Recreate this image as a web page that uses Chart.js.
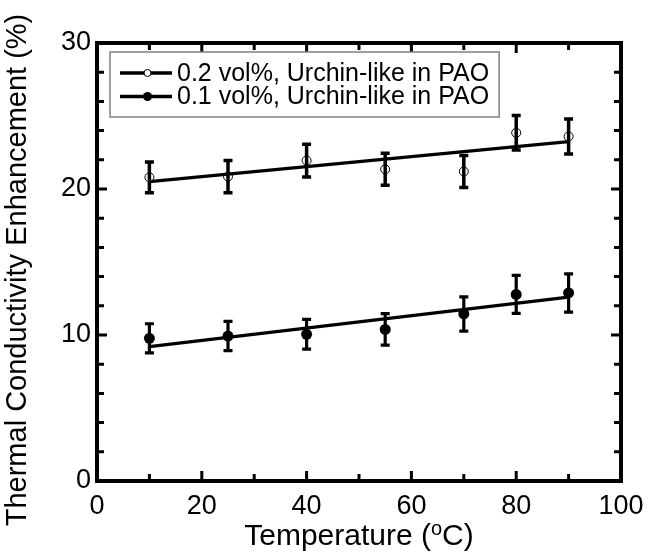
<!DOCTYPE html>
<html><head><meta charset="utf-8">
<script src="https://cdn.jsdelivr.net/npm/chart.js@4/dist/chart.umd.min.js"></script>
<style>html,body{margin:0;padding:0;background:#fff}</style>
</head><body>
<canvas id="c" width="655" height="554"></canvas>
<script>
// ---- data ----
const temps = [10, 25, 40, 55, 70, 80, 90];
const pct02 = [20.8, 20.85, 21.95, 21.35, 21.2, 23.85, 23.6];
const err02 = [1.05, 1.1, 1.12, 1.1, 1.1, 1.18, 1.2];
const pct01 = [9.77, 9.93, 10.05, 10.38, 11.44, 12.78, 12.88];
const err01 = [1.0, 1.0, 1.02, 1.08, 1.17, 1.3, 1.31];
const fitX = [10, 90];
const fit02 = [20.5, 23.25];
const fit01 = [9.2, 12.6];
const labels = ["0.2 vol%, Urchin-like in PAO", "0.1 vol%, Urchin-like in PAO"];
const xTicks = [0, 20, 40, 60, 80, 100];
const yTicks = [0, 10, 20, 30];
const yTitle = "Thermal Conductivity Enhancement (%)";
const xTitleParts = ["Temperature (", "o", "C)"];

const FONT = '"Liberation Sans", Arial, Helvetica, sans-serif';
const pts = (xs, ys) => xs.map((x, i) => ({x: x, y: ys[i]}));

const errorBars = {
  id: 'errorBars',
  beforeDatasetsDraw(chart) {
    const ctx = chart.ctx, xs = chart.scales.x, ys = chart.scales.y;
    const sets = [[pct02, err02, 3.5], [pct01, err01, 3.2]];
    ctx.save();
    ctx.strokeStyle = '#000';
    sets.forEach(([vals, errs, lw]) => {
      ctx.lineWidth = lw;
      temps.forEach((t, i) => {
        const px = xs.getPixelForValue(t);
        const top = ys.getPixelForValue(vals[i] + errs[i]);
        const bot = ys.getPixelForValue(vals[i] - errs[i]);
        ctx.beginPath();
        ctx.moveTo(px, top); ctx.lineTo(px, bot);
        ctx.moveTo(px - 4.5, top); ctx.lineTo(px + 4.5, top);
        ctx.moveTo(px - 4.5, bot); ctx.lineTo(px + 4.5, bot);
        ctx.stroke();
      });
    });
    ctx.restore();
  }
};

const frame = {
  id: 'frame',
  afterDraw(chart) {
    const ctx = chart.ctx, a = chart.chartArea, xs = chart.scales.x, ys = chart.scales.y;
    ctx.save();
    ctx.strokeStyle = '#000';
    // ticks (inward, all four sides)
    ctx.lineWidth = 3;
    ctx.beginPath();
    for (let v = 0; v <= 100; v += 10) {
      const px = xs.getPixelForValue(v);
      const len = (v % 20 === 0) ? 10 : 7;
      ctx.moveTo(px, a.bottom); ctx.lineTo(px, a.bottom - len);
      ctx.moveTo(px, a.top); ctx.lineTo(px, a.top + len);
    }
    for (let v = 0; v <= 30; v += 2) {
      const py = ys.getPixelForValue(v);
      const len = (v % 10 === 0) ? 10 : 7;
      ctx.moveTo(a.left, py); ctx.lineTo(a.left + len, py);
      ctx.moveTo(a.right, py); ctx.lineTo(a.right - len, py);
    }
    ctx.stroke();
    ctx.lineWidth = 4;
    ctx.strokeRect(a.left, a.top, a.right - a.left, a.bottom - a.top);

    // legend
    const lx = a.left + 13, ly = a.top + 9;
    ctx.font = '25px ' + FONT;
    const tw = Math.max(...labels.map(l => ctx.measureText(l).width));
    const bw = 67 + tw + 10, bh = 65;
    ctx.fillStyle = '#fff';
    ctx.fillRect(lx, ly, bw, bh);
    ctx.lineWidth = 1.5;
    ctx.strokeStyle = '#808080';
    ctx.strokeRect(lx, ly, bw, bh);
    ctx.strokeStyle = '#000';
    ctx.fillStyle = '#000';
    ctx.textBaseline = 'middle';
    ctx.textAlign = 'left';
    labels.forEach((l, i) => {
      const cy = ly + 21 + i * 23.5;
      ctx.lineWidth = 3.5;
      ctx.beginPath(); ctx.moveTo(lx + 10, cy); ctx.lineTo(lx + 62, cy); ctx.stroke();
      const mx = lx + 37.5;
      ctx.beginPath();
      if (i === 0) {
        ctx.arc(mx, cy, 3.5, 0, Math.PI * 2);
        ctx.fillStyle = '#fff'; ctx.fill();
        ctx.lineWidth = 1; ctx.strokeStyle = '#000'; ctx.stroke();
      } else {
        ctx.arc(mx, cy, 4.5, 0, Math.PI * 2);
        ctx.fillStyle = '#000'; ctx.fill();
      }
      ctx.fillStyle = '#000';
      ctx.fillText(l, lx + 67, cy + 1);
    });

    // axis titles
    ctx.save();
    ctx.font = '29px ' + FONT;
    ctx.textAlign = 'center';
    ctx.textBaseline = 'middle';
    ctx.translate(18, (a.top + a.bottom) / 2 + 8);
    ctx.rotate(-Math.PI / 2);
    ctx.fillText(yTitle, 0, 0);
    ctx.restore();

    ctx.textBaseline = 'alphabetic';
    ctx.textAlign = 'left';
    const big = '30px ' + FONT, small = '20px ' + FONT;
    ctx.font = big; const w1 = ctx.measureText(xTitleParts[0]).width, w3 = ctx.measureText(xTitleParts[2]).width;
    ctx.font = small; const w2 = ctx.measureText(xTitleParts[1]).width;
    let sx = (a.left + a.right) / 2 - (w1 + w2 + w3) / 2;
    const base = 545;
    ctx.font = big; ctx.fillText(xTitleParts[0], sx, base); sx += w1;
    ctx.font = small; ctx.fillText(xTitleParts[1], sx, base - 10); sx += w2;
    ctx.font = big; ctx.fillText(xTitleParts[2], sx, base);
    ctx.restore();
  }
};

new Chart(document.getElementById('c'), {
  type: 'scatter',
  data: {
    datasets: [
      { data: pts(temps, pct02), showLine: false, pointStyle: 'circle', pointRadius: 4.5,
        pointBackgroundColor: 'rgba(0,0,0,0)', pointBorderColor: '#000', pointBorderWidth: 1 },
      { data: pts(temps, pct01), showLine: false, pointStyle: 'circle', pointRadius: 5.5,
        pointBackgroundColor: '#000', pointBorderColor: '#000', pointBorderWidth: 0 },
      { data: pts(fitX, fit02), showLine: true, borderColor: '#000', borderWidth: 3.2, pointRadius: 0 },
      { data: pts(fitX, fit01), showLine: true, borderColor: '#000', borderWidth: 3.2, pointRadius: 0 }
    ]
  },
  options: {
    responsive: false,
    animation: false,
    devicePixelRatio: 1,
    layout: { padding: { top: 43, right: 34, left: 0, bottom: 0 } },
    plugins: { legend: { display: false }, tooltip: { enabled: false } },
    scales: {
      x: {
        type: 'linear', min: 0, max: 100,
        afterFit(s) { s.height = 73; },
        afterBuildTicks(s) { s.ticks = xTicks.map(v => ({value: v})); },
        grid: { display: false, drawTicks: false, tickLength: 0 }, border: { display: false },
        ticks: { color: '#000', font: { family: FONT, size: 27 }, padding: 9, maxRotation: 0 }
      },
      y: {
        type: 'linear', min: 0, max: 30,
        afterFit(s) { s.width = 97; },
        afterBuildTicks(s) { s.ticks = yTicks.map(v => ({value: v})); },
        grid: { display: false, drawTicks: false, tickLength: 0 }, border: { display: false },
        ticks: { color: '#000', font: { family: FONT, size: 27 }, padding: 6 }
      }
    }
  },
  plugins: [errorBars, frame]
});
</script>
</body></html>
